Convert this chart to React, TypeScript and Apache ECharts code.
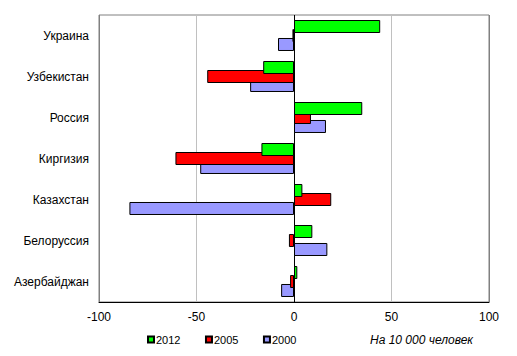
import React, { useEffect, useRef } from "react";
import * as echarts from "echarts";

const categories = ["Украина", "Узбекистан", "Россия", "Киргизия", "Казахстан", "Белоруссия", "Азербайджан"];
const values2012 = [44.2, -15.8, 35.0, -16.7, 4.3, 9.4, 1.7];
const values2005 = [-0.8, -44.5, 8.7, -60.8, 19.1, -2.6, -2.0];
const values2000 = [-8.2, -22.5, 16.4, -48.1, -84.4, 17.1, -6.6];
const seriesNames = ["2012", "2005", "2000"];
const noteText = "На 10 000 человек";

const FONT = "'Liberation Sans', Arial, sans-serif";

export default function App() {
  const ref = useRef<HTMLDivElement>(null);
  useEffect(() => {
    if (!ref.current) return;
    const chart = echarts.init(ref.current, null, { renderer: "svg" });
    const rev = (a: any[]) => a.slice().reverse();
    const mk = (name: string, data: number[], color: string, z: number) => ({
      name,
      type: "bar",
      data: rev(data),
      barWidth: 13,
      barGap: "-30.77%",
      z,
      itemStyle: { color, borderColor: "#000", borderWidth: 1 },
    });
    chart.setOption({
      animation: false,
      backgroundColor: "#fff",
      textStyle: { fontFamily: FONT },
      grid: {
        left: 99,
        top: 15,
        width: 390,
        height: 287,
        show: true,
        borderColor: "#808080",
        borderWidth: 1,
      },
      xAxis: {
        type: "value",
        min: -100,
        max: 100,
        interval: 50,
        axisLine: { show: true, lineStyle: { color: "#000", width: 1 } },
        axisTick: { show: false },
        axisLabel: { color: "#000", fontSize: 12, fontFamily: FONT, margin: 9 },
        splitLine: {
          show: true,
          lineStyle: { color: ["#808080", "#c0c0c0", "#000000", "#c0c0c0", "#808080"], width: 1 },
        },
      },
      yAxis: {
        type: "category",
        data: rev(categories),
        axisLine: { show: false },
        axisTick: { show: false },
        axisLabel: { color: "#000", fontSize: 12, fontFamily: FONT, margin: 10 },
        splitLine: { show: false },
      },
      legend: {
        data: seriesNames,
        left: 147,
        top: 334,
        itemWidth: 6,
        itemHeight: 6,
        itemGap: 24.5,
        icon: "rect",
        textStyle: { color: "#000", fontSize: 11, fontFamily: FONT, padding: [0, 0, 0, -3] },
        padding: 0,
      },
      graphic: [
        {
          type: "text",
          left: 370,
          top: 334,
          style: { text: noteText, fill: "#000", font: `italic 12px ${FONT}` },
        },
      ],
      series: [
        mk(seriesNames[0], values2012, "#00ff00", 4),
        mk(seriesNames[1], values2005, "#ff0000", 3),
        mk(seriesNames[2], values2000, "#9999ff", 2),
      ],
    });
    return () => chart.dispose();
  }, []);
  return (
    <div
      ref={ref}
      style={{ position: "absolute", left: 0, top: 0, width: 517, height: 356 }}
    />
  );
}
